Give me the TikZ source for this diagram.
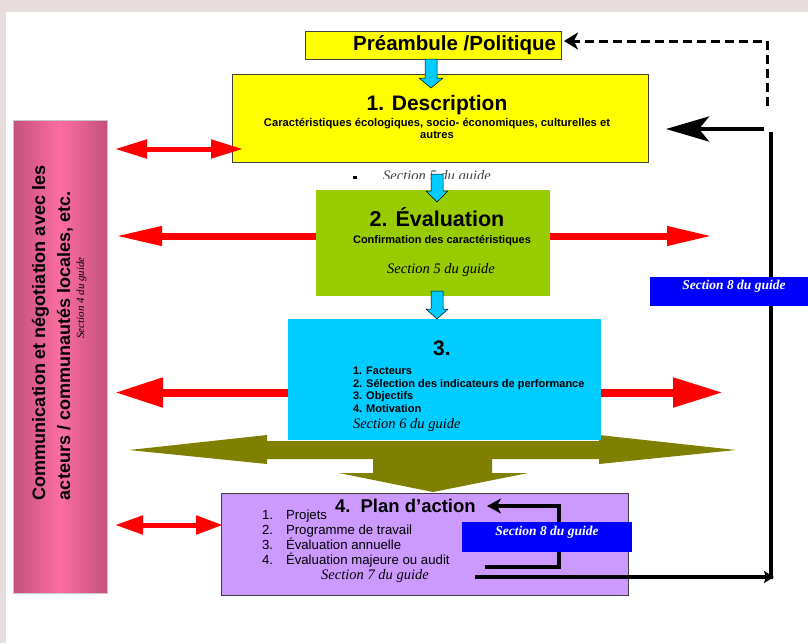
\documentclass[tikz,border=0pt]{standalone}
\usepackage{fontspec}
\setmainfont{Liberation Sans}
\newfontfamily\tms{Liberation Serif}
\usetikzlibrary{arrows.meta}
\definecolor{bgc}{RGB}{232,221,221}
\definecolor{yel}{RGB}{255,255,0}
\definecolor{grn}{RGB}{153,204,0}
\definecolor{cyn}{RGB}{0,204,255}
\definecolor{lav}{RGB}{204,153,255}
\definecolor{olv}{RGB}{128,128,0}
\definecolor{blu}{RGB}{0,0,255}
\definecolor{pkd}{RGB}{196,80,124}
\definecolor{pkl}{RGB}{252,110,160}
\definecolor{rd}{RGB}{255,0,0}
\newcommand\fs[1]{\fontsize{#1}{#1}\selectfont}
\begin{document}
\begin{tikzpicture}[x=1pt,y=-1pt,
  txt/.style={inner sep=0pt,outer sep=0pt},
  bx/.style={rectangle,inner sep=0pt,outer sep=0pt,anchor=north west},
  edge/.style={draw=black!75,line width=0.6pt},
  redarr/.style={draw=rd,line width=#1},
  cyanarr/.style={fill=cyn,draw=black,line width=0.5pt},
  loopline/.style={line width=4.5pt,black},
  sect/.style={txt,font=\tms\itshape\fs{14.5}},
  sectw/.style={txt,text=white,font=\tms\bfseries\itshape\fs{13.5}}]
\useasboundingbox (0,0) rectangle (808,643);
\fill[bgc] (0,0) rectangle (808,643);
\fill[white] (6,12) rectangle (808,643);

% olive double arrow with downward arrow
\fill[olv] (129,450) -- (267,435) -- (267,441) -- (599,441) -- (599,435) -- (736,450)
  -- (599,464) -- (599,459) -- (492,459) -- (492,473) -- (528,473) -- (433,492)
  -- (339,473) -- (373,473) -- (373,459) -- (267,459) -- (267,464) -- cycle;

% boxes
\node[bx,edge,fill=yel,minimum width=256pt,minimum height=28pt] (pre) at (305,31) {};
\node[bx,edge,fill=yel,minimum width=416pt,minimum height=88pt] (desc) at (232,74) {};
\node[bx,fill=grn,minimum width=234pt,minimum height=106pt] (eval) at (316,190) {};
\node[bx,fill=cyn,minimum width=313pt,minimum height=121pt] (fact) at (288,319) {};
\node[bx,edge,fill=lav,minimum width=407pt,minimum height=102pt] (plan) at (221,493) {};
\node[bx,draw=gray!45,line width=0.6pt,left color=pkd,right color=pkd,middle color=pkl,
  minimum width=94pt,minimum height=473pt] (comm) at (13,120) {};

% partly hidden label
\begin{scope}
\clip (300,150) rectangle (600,178);
\node[sect,anchor=base,text=black!75] (sec5h) at (437,180) {Section 5 du guide};
\end{scope}
\fill (353,176) rectangle (357,178.5);

% texts
\node[txt,anchor=base east,font=\bfseries\fs{20.5}] (pret) at (556,50) {Préambule /Politique};
\node[txt,anchor=base,font=\bfseries\fs{21}] (desct) at (437,110) {1. Description};
\node[txt,anchor=base,font=\bfseries\fs{11.2}] (descs1) at (437,126) {Caractéristiques écologiques, socio- économiques, culturelles et};
\node[txt,anchor=base,font=\bfseries\fs{11.2}] (descs2) at (437,138) {autres};

\node[txt,anchor=base,font=\bfseries\fs{21.5}] (evalt) at (437,226) {2. Évaluation};
\node[txt,anchor=base,font=\bfseries\fs{11}] (evals) at (442,243) {Confirmation des caractéristiques};
\node[sect,anchor=base] (evalg) at (441,273) {Section 5 du guide};

\node[txt,anchor=base,font=\bfseries\fs{21}] (factt) at (442,355) {3.};
\node[txt,anchor=base west,font=\bfseries\fs{11}] (f1) at (353,374) {1. Facteurs};
\node[txt,anchor=base west,font=\bfseries\fs{11}] (f2) at (353,387) {2. Sélection des indicateurs de performance};
\node[txt,anchor=base west,font=\bfseries\fs{11}] (f3) at (353,399.5) {3. Objectifs};
\node[txt,anchor=base west,font=\bfseries\fs{11}] (f4) at (353,412) {4. Motivation};
\node[sect,anchor=base west] (factg) at (353,428) {Section 6 du guide};

\node[txt,anchor=base west,font=\bfseries\fs{18.5}] (plant) at (335,512) {4.\hspace{0.55em}Plan d’action};
\foreach \n/\t/\yy in {1/Projets/519,2/Programme de travail/534,3/Évaluation annuelle/549,4/Évaluation majeure ou audit/564}{
  \node[txt,anchor=base west,font=\fs{13.2}] (pn\n) at (262,\yy) {\n.};
  \node[txt,anchor=base west,font=\fs{13.2}] (pi\n) at (286,\yy) {\t};
}
\node[sect,anchor=base] (plang) at (375,579) {Section 7 du guide};

\node[txt,rotate=90,anchor=base west,font=\bfseries\fs{18}] (c1) at (45,500) {Communication et négotiation avec les};
\node[txt,rotate=90,anchor=base west,font=\bfseries\fs{18}] (c2) at (70,500) {acteurs / communautés locales, etc.};
\node[txt,rotate=90,anchor=base,font=\tms\itshape\fs{11}] (c3) at (84,298) {Section 4 du guide};

% red arrows
\coordinate (a1l) at (115,149); \coordinate (a1r) at (243,149);
\draw[redarr=5pt,{Triangle[length=32pt,width=18pt]}-{Triangle[length=32pt,width=18pt]}] (a1l) -- (a1r);
\coordinate (a2l) at (115,236); \coordinate (a2r) at (713,236);
\draw[redarr=7pt,-{Triangle[length=47pt,width=18pt]}] (eval.west |- a2l) -- (a2l);
\draw[redarr=7pt,-{Triangle[length=46pt,width=18pt]}] (eval.east |- a2r) -- (a2r);
\coordinate (a3l) at (115,392.5); \coordinate (a3r) at (723,392.5);
\draw[redarr=8pt,-{Triangle[length=48pt,width=28pt]}] (fact.west |- a3l) -- (a3l);
\draw[redarr=8pt,-{Triangle[length=50pt,width=28pt]}] (fact.east |- a3r) -- (a3r);
\coordinate (a4l) at (115,525); \coordinate (a4r) at (223,525);
\draw[redarr=5pt,{Triangle[length=28pt,width=18pt]}-{Triangle[length=27pt,width=18pt]}] (a4l) -- (a4r);

% cyan block arrows
\filldraw[cyanarr] (425,59) -- (437,59) -- (437,78) -- (443,78) -- (431,88) -- (419,78) -- (425,78) -- cycle;
\filldraw[cyanarr] (431,174) -- (443,174) -- (443,191) -- (448,191) -- (437,202) -- (426,191) -- (431,191) -- cycle;
\filldraw[cyanarr] (431,291) -- (443,291) -- (443,309) -- (448,309) -- (437,319) -- (426,309) -- (431,309) -- cycle;

% black feedback connectors
\coordinate (ls) at (485,567); \coordinate (lc1) at (559,567); \coordinate (lc2) at (559,506); \coordinate (le) at (487,506);
\draw[line width=3.5pt,line join=miter,-{Stealth[length=14pt,width=15pt,inset=4pt]}] (ls) -- (lc1) -- (lc2) -- (le);
\coordinate (bs) at (475,577); \coordinate (be) at (774,577);
\draw[loopline,-{Stealth[length=10pt,width=12pt,inset=2pt]}] (bs) -- (be);
\coordinate (vb) at (771,579); \coordinate (vt) at (771,132);
\draw[loopline] (vb) -- (vt);
\coordinate (ts) at (764,129); \coordinate (te) at (666,129);
\draw[loopline,-{Stealth[length=43pt,width=25pt,inset=10pt]}] (ts) -- (te);
\coordinate (ds) at (767,106); \coordinate (dc) at (767,41); \coordinate (de) at (564,41);
\draw[line width=3pt,dash pattern=on 9pt off 5pt,-{Stealth[length=14pt,width=17pt,inset=4pt]}] (ds) -- (dc) -- (de);
% blue section 8 boxes
\node[bx,fill=blu,minimum width=158pt,minimum height=29pt] (s8r) at (650,277) {};
\node[sectw,anchor=base] (s8rt) at (734,289) {Section 8 du guide};
\node[bx,fill=blu,minimum width=170pt,minimum height=30pt] (s8p) at (462,522) {};
\node[sectw,anchor=base] (s8pt) at (547,535) {Section 8 du guide};
\end{tikzpicture}
\end{document}
